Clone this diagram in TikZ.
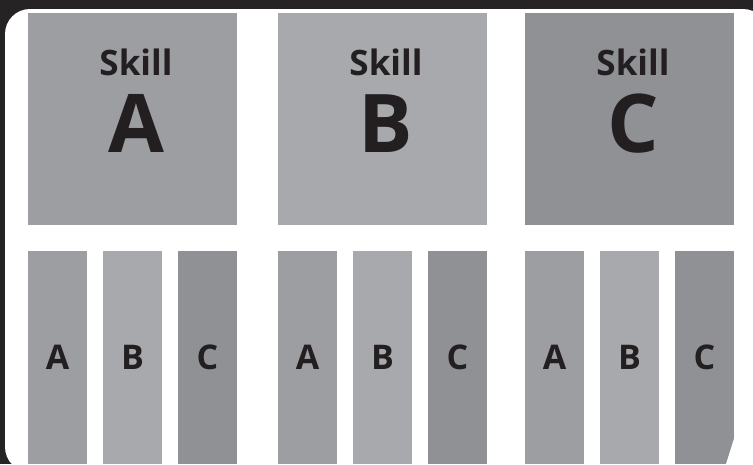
\documentclass[tikz,border=0pt]{standalone}
\usepackage{fontspec}
\setmainfont{Open Sans}
\definecolor{frame}{HTML}{252324}
\definecolor{ink}{HTML}{231F20}
\definecolor{greyA}{HTML}{9D9EA2}
\definecolor{greyB}{HTML}{A8A9AD}
\definecolor{greyC}{HTML}{909195}
\tikzset{
  skillsq/.style={inner sep=0pt, minimum width=209pt, minimum height=212pt},
  subbar/.style={inner sep=0pt, minimum width=59pt, minimum height=213pt,
    font=\bfseries\fontsize{34}{34}\selectfont, text=ink},
  skilltxt/.style={anchor=base, inner sep=0pt, text=ink,
    font=\bfseries\fontsize{35}{35}\selectfont},
  bigletter/.style={anchor=base, inner sep=0pt, text=ink,
    font=\bfseries\fontsize{81}{81}\selectfont}
}
\begin{document}
\begin{tikzpicture}[x=1pt,y=-1pt]
  % dark surround and white card
  \useasboundingbox (0,0) rectangle (753,464);
  \fill[frame] (0,0) rectangle (753,464);
  \fill[white, rounded corners=25pt] (5,9) rectangle (768,472);
  % three skill squares: left edge / letter / colour
  \foreach \x/\s/\c in {28/A/greyA, 278/B/greyB, 525/C/greyC} {
    \node[skillsq, fill=\c] (sq\s) at (\x+104.5,119) {};
    \node[skilltxt] (lab\s) at (\x+108,75) {Skill};
    \node[bigletter] (big\s) at (\x+108,152) {\s};
  }
  % sub bars under each square
  \foreach \x/\g in {28/1, 278/2, 525/3} {
    \foreach \dx/\s/\c in {0/A/greyA, 75/B/greyB, 150/C/greyC} {
      \node[subbar, fill=\c] (bar\g\s) at (\x+\dx+29.5,357.5) {\s};
    }
  }
  % clipped corner of the last bar
  \fill[white] (bar3C.east |- 0,438) -- (bar3C.south east) -- (726,464) -- cycle;
\end{tikzpicture}
\end{document}
